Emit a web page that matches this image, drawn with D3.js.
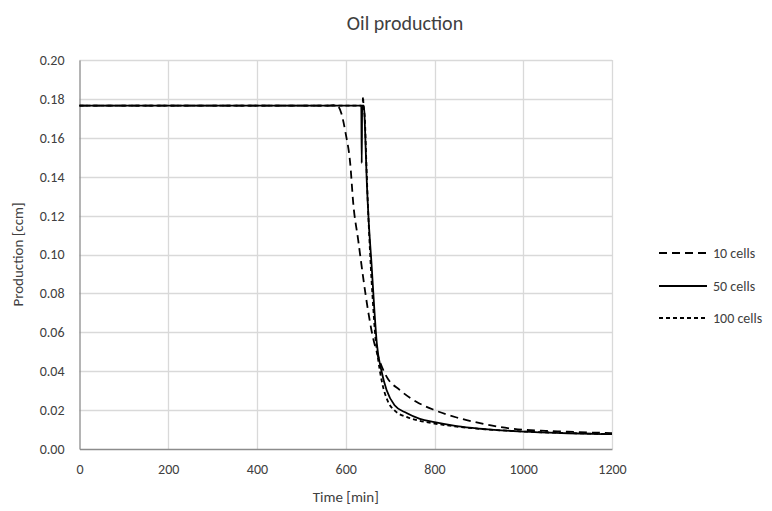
<!DOCTYPE html>
<html><head><meta charset="utf-8">
<script src="https://cdn.jsdelivr.net/npm/d3@7"></script>
<style>
body{margin:0;background:#fff}
text{font-family:Carlito,Calibri,Lato,"Open Sans",sans-serif;fill:#404040}
</style>
</head><body>
<svg id="chart" width="772" height="511"></svg>
<script>
const xTicks = [0, 200, 400, 600, 800, 1000, 1200];
const yTicks = [0, 0.02, 0.04, 0.06, 0.08, 0.10, 0.12, 0.14, 0.16, 0.18, 0.20];
const seriesNames = ["10 cells", "50 cells", "100 cells"];

const time10 = [0, 300, 560, 576, 583, 590, 600, 610, 617, 628, 639, 650, 661, 673, 692, 722, 759, 800, 850, 900, 950, 1000, 1050, 1100, 1150, 1200];
const prod10 = [0.1765, 0.1765, 0.1765, 0.1768, 0.1762, 0.1726, 0.162, 0.147, 0.126, 0.1075, 0.0886, 0.0715, 0.0577, 0.0475, 0.0372, 0.0303, 0.0243, 0.0200, 0.0162, 0.0134, 0.0112, 0.0099, 0.0093, 0.0089, 0.0085, 0.0082];

const time50 = [0, 300, 634, 635, 636, 637, 641, 643, 647, 652, 658, 664, 670, 680, 692, 710, 737, 767, 800, 850, 900, 950, 1000, 1100, 1200];
const prod50 = [0.1765, 0.1765, 0.1765, 0.1765, 0.147, 0.1765, 0.1765, 0.1675, 0.140, 0.116, 0.0955, 0.0732, 0.0543, 0.0406, 0.0303, 0.0225, 0.0185, 0.0155, 0.0138, 0.0118, 0.0105, 0.0096, 0.0089, 0.0081, 0.0076];

const time100 = [0, 300, 638, 639, 640, 643, 646, 650, 655, 661, 667, 673, 682, 694, 710, 737, 767, 800, 850, 900, 1000, 1100, 1200];
const prod100 = [0.1765, 0.1765, 0.1765, 0.181, 0.1765, 0.170, 0.150, 0.125, 0.100, 0.076, 0.057, 0.046, 0.034, 0.025, 0.0198, 0.0165, 0.0145, 0.0131, 0.0115, 0.0104, 0.0090, 0.0082, 0.0077];

const svg = d3.select("#chart");
const x = d3.scaleLinear().domain([0, 1200]).range([79.5, 612]);
const y = d3.scaleLinear().domain([0, 0.20]).range([449, 60]);

// gridlines
svg.append("g").selectAll("line").data(yTicks.filter(d => d > 0)).join("line")
  .attr("x1", x(0)).attr("x2", x(1200))
  .attr("y1", d => Math.round(y(d)) + 0.5).attr("y2", d => Math.round(y(d)) + 0.5)
  .attr("stroke", "#d9d9d9").attr("stroke-width", 1.3);
svg.append("g").selectAll("line").data(xTicks.filter(d => d > 0)).join("line")
  .attr("x1", d => Math.round(x(d)) + 0.5).attr("x2", d => Math.round(x(d)) + 0.5)
  .attr("y1", y(0)).attr("y2", y(0.20))
  .attr("stroke", "#d9d9d9").attr("stroke-width", 1.3);

// axes
const xAxis = d3.axisBottom(x).tickValues(xTicks).tickSize(0).tickPadding(15).tickFormat(d3.format("d"));
const gx = svg.append("g").attr("transform", `translate(0,${y(0)})`).call(xAxis);
gx.select(".domain").attr("stroke", "#8c8c8c").attr("stroke-width", 1.3);
gx.selectAll("text").attr("font-size", 14).style("font-family", "Carlito,Calibri,Lato,sans-serif").attr("fill", "#404040");

const yAxis = d3.axisLeft(y).tickValues(yTicks).tickSize(0).tickPadding(15).tickFormat(d3.format(".2f"));
const gy = svg.append("g").attr("transform", `translate(${x(0)},0)`).call(yAxis);
gy.select(".domain").attr("stroke", "#8c8c8c").attr("stroke-width", 1.3);
gy.selectAll("text").attr("font-size", 14).style("font-family", "Carlito,Calibri,Lato,sans-serif").attr("fill", "#404040");

// series
const styles = [
  {t: time10, v: prod10, dash: "8,5"},
  {t: time50, v: prod50, dash: null},
  {t: time100, v: prod100, dash: "4,3"}
];
const line = d3.line().x(d => x(d[0])).y(d => y(d[1])).curve(d3.curveMonotoneX);
styles.forEach(s => {
  const pts = s.t.map((t, i) => [t, s.v[i]]);
  svg.append("path").datum(pts).attr("d", line)
    .attr("fill", "none").attr("stroke", "#000").attr("stroke-width", 1.8)
    .attr("stroke-dasharray", s.dash);
});

// title
svg.append("text").attr("x", 405).attr("y", 30).attr("text-anchor", "middle")
  .attr("font-size", 20).attr("fill", "#000").text("Oil production");

// axis titles
svg.append("text").attr("x", x(600)).attr("y", 502).attr("text-anchor", "middle")
  .attr("font-size", 15).text("Time [min]");
svg.append("text").attr("transform", `translate(23,${(y(0)+y(0.2))/2}) rotate(-90)`)
  .attr("text-anchor", "middle").attr("font-size", 15).text("Production [ccm]");

// legend
const legY = [253, 286, 318];
styles.forEach((s, i) => {
  svg.append("line").attr("x1", 659).attr("x2", 707).attr("y1", legY[i]).attr("y2", legY[i])
    .attr("stroke", "#000").attr("stroke-width", 1.8).attr("stroke-dasharray", s.dash);
  svg.append("text").attr("x", 713).attr("y", legY[i] + 5).attr("font-size", 14).text(seriesNames[i]);
});
</script>
</body></html>
